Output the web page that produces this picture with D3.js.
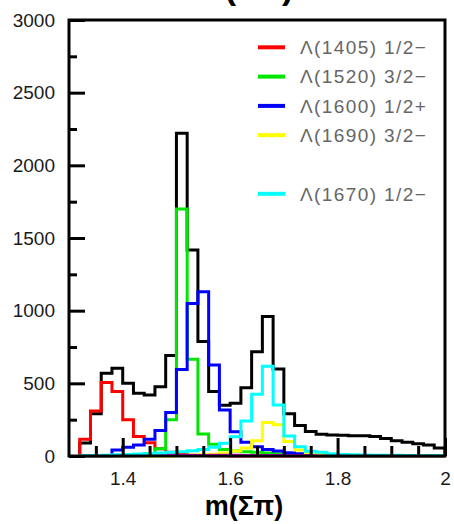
<!DOCTYPE html>
<html>
<head>
<meta charset="utf-8">
<script src="https://cdn.jsdelivr.net/npm/d3@7"></script>
<style>
  html, body { margin: 0; padding: 0; background: #fff; }
  svg { display: block; }
</style>
</head>
<body>
<svg id="chart" width="454" height="524"></svg>
<script>
// Σπ invariant-mass histograms, 0.02 GeV bins (low edges)
const massBins = [1.32, 1.34, 1.36, 1.38, 1.40, 1.42, 1.44, 1.46, 1.48, 1.50,
                  1.52, 1.54, 1.56, 1.58, 1.60, 1.62, 1.64, 1.66, 1.68, 1.70,
                  1.72, 1.74, 1.76, 1.78, 1.80, 1.82, 1.84, 1.86, 1.88, 1.90,
                  1.92, 1.94, 1.96, 1.98];
const binWidth = 0.02;

const totalCounts = [90, 290, 570, 603, 500, 431, 420, 477, 692, 2220,
                     1417, 787, 443, 350, 363, 470, 718, 960, 598, 290,
                     210, 168, 150, 145, 142, 140, 140, 135, 120, 105,
                     95, 85, 75, 55];
const l1405Counts = [115, 310, 505, 443, 250, 135, 92, 50, 25, 12,
                     6, 3, 2, 1, 0, 0, 0, 0, 0, 0,
                     0, 0, 0, 0, 0, 0, 0, 0, 0, 0,
                     0, 0, 0, 0];
const l1520Counts = [0, 0, 0, 0, 2, 5, 15, 50, 250, 1700,
                     665, 151, 80, 45, 35, 30, 25, 20, 15, 10,
                     6, 3, 1, 0, 0, 0, 0, 0, 0, 0,
                     0, 0, 0, 0];
const l1600Counts = [0, 0, 0, 41, 60, 76, 115, 175, 300, 595,
                     1050, 1131, 626, 316, 167, 95, 64, 45, 35, 22,
                     15, 10, 6, 4, 2, 0, 0, 0, 0, 0,
                     0, 0, 0, 0];
const l1690Counts = [0, 0, 0, 0, 0, 0, 0, 0, 0, 3,
                     5, 8, 12, 20, 35, 55, 105, 230, 215, 100,
                     42, 20, 10, 5, 2, 0, 0, 0, 0, 0,
                     0, 0, 0, 0];
const l1670Counts = [2, 4, 6, 8, 10, 13, 16, 20, 25, 30,
                     36, 45, 60, 87, 133, 240, 425, 617, 351, 138,
                     64, 32, 25, 15, 10, 8, 7, 6, 5, 5,
                     4, 4, 3, 3];
const otherCounts = [0, 0, 0, 0, 0, 0, 3, 4, 5, 5,
                     6, 6, 7, 7, 7, 6, 6, 5, 5, 4,
                     3, 2, 0, 0, 0, 0, 0, 0, 0, 0,
                     0, 0, 0, 0];

const legendLabels = ["Λ(1405) 1/2−", "Λ(1520) 3/2−", "Λ(1600) 1/2+", "Λ(1690) 3/2−", "", "Λ(1670) 1/2−"];
const legendColors = ["#ff0000", "#00e600", "#0000ff", "#ffff00", null, "#00ffff"];

const xTickValues = [1.4, 1.6, 1.8, 2.0];
const xMinorTicks = [1.35, 1.45, 1.5, 1.55, 1.65, 1.7, 1.75, 1.85, 1.9, 1.95];
const yTickValues = [0, 500, 1000, 1500, 2000, 2500, 3000];
const yMinorTicks = [250, 750, 1250, 1750, 2250, 2750];

const svg = d3.select("#chart");
const frame = { left: 69, right: 445, top: 20, bottom: 456 };

const x = d3.scaleLinear().domain([1.3, 2.0]).range([frame.left, frame.right]);
const y = d3.scaleLinear().domain([0, 3000]).range([frame.bottom, frame.top]);

// step outline of a histogram, closed down to zero at both ends
function histPath(counts) {
  const pts = [[x(massBins[0]), y(0)]];
  counts.forEach((c, i) => pts.push([x(massBins[i]), y(c)]));
  const lastEdge = massBins[massBins.length - 1] + binWidth;
  pts.push([x(lastEdge), y(counts[counts.length - 1])]);
  pts.push([x(lastEdge), y(0)]);
  return d3.line().curve(d3.curveStepAfter)(pts);
}

const series = [
  { counts: totalCounts, color: "#000000", width: 3 },
  { counts: l1405Counts, color: "#ff0000", width: 3 },
  { counts: l1520Counts, color: "#00e600", width: 3 },
  { counts: l1600Counts, color: "#0000ff", width: 3 },
  { counts: l1690Counts, color: "#ffff00", width: 3 },
  { counts: otherCounts, color: "#ff00ff", width: 2.5 },
  { counts: l1670Counts, color: "#00ffff", width: 3 }
];

const histG = svg.append("g");
series.forEach(s => {
  histG.append("path")
    .attr("d", histPath(s.counts))
    .attr("fill", "none")
    .attr("stroke", s.color)
    .attr("stroke-width", s.width)
    .attr("stroke-linejoin", "miter");
});

// axes with inward ticks
const tickFont = "'Liberation Sans', Arial, sans-serif";

const yAxis = svg.append("g")
  .attr("transform", `translate(${frame.left},0)`)
  .call(d3.axisLeft(y).tickValues(yTickValues).tickSize(-16).tickPadding(14).tickFormat(d3.format("d")));
const yMinor = svg.append("g")
  .attr("transform", `translate(${frame.left},0)`)
  .call(d3.axisLeft(y).tickValues(yMinorTicks).tickSize(-8).tickFormat(""));

const xAxis = svg.append("g")
  .attr("transform", `translate(0,${frame.bottom})`)
  .call(d3.axisBottom(x).tickValues(xTickValues).tickSize(-18).tickPadding(16).tickFormat(d3.format("~g")));
const xMinor = svg.append("g")
  .attr("transform", `translate(0,${frame.bottom})`)
  .call(d3.axisBottom(x).tickValues(xMinorTicks).tickSize(-10).tickFormat(""));

[yAxis, yMinor, xAxis, xMinor].forEach(g => {
  g.select(".domain").remove();
  g.selectAll(".tick line").attr("stroke", "#000").attr("stroke-width", 3);
  g.selectAll(".tick text")
    .attr("fill", "#1a1a1a")
    .style("font-family", tickFont)
    .style("font-size", "19px");
});

// plot frame
svg.append("rect")
  .attr("x", frame.left).attr("y", frame.top)
  .attr("width", frame.right - frame.left)
  .attr("height", frame.bottom - frame.top)
  .attr("fill", "none")
  .attr("stroke", "#000")
  .attr("stroke-width", 3);

// legend
const legend = svg.append("g");
const legendY0 = 47.3, legendStep = 29.3;
legendLabels.forEach((label, i) => {
  if (!label) return;
  const ly = legendY0 + i * legendStep;
  legend.append("line")
    .attr("x1", 258).attr("x2", 285)
    .attr("y1", ly).attr("y2", ly)
    .attr("stroke", legendColors[i])
    .attr("stroke-width", 4);
  legend.append("text")
    .attr("x", 300).attr("y", ly)
    .attr("dy", "0.36em")
    .attr("fill", "#666")
    .style("font-family", tickFont)
    .style("font-size", "19px")
    .style("letter-spacing", "1.4px")
    .text(label);
});

// axis title and top title
svg.append("text")
  .attr("x", 244).attr("y", 515)
  .attr("text-anchor", "middle")
  .style("font-family", tickFont)
  .style("font-weight", "bold")
  .style("font-size", "27px")
  .attr("fill", "#000")
  .text("m(Σπ)");

svg.append("text")
  .attr("x", 244).attr("y", -1)
  .attr("text-anchor", "middle")
  .style("font-family", tickFont)
  .style("font-weight", "bold")
  .style("font-size", "34px")
  .attr("fill", "#000")
  .text("m(Σπ)");
</script>
</body>
</html>
